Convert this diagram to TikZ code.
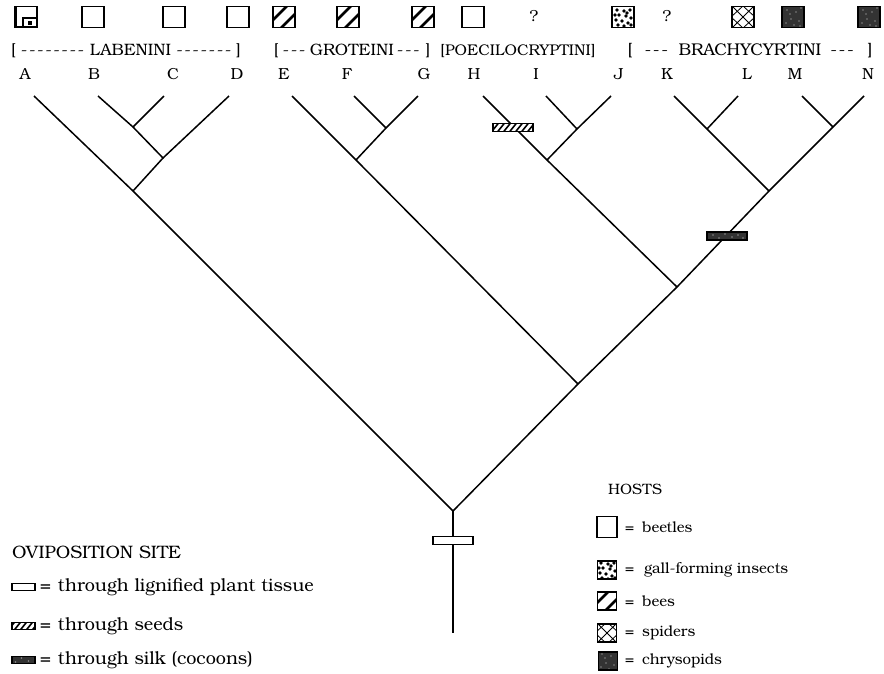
\documentclass[tikz,border=0pt]{standalone}
\usepackage{fontspec}
\setmainfont{TeX Gyre Bonum}
\usetikzlibrary{calc}
\newcommand\dsh{-\kern1.5pt}
\tikzset{
  br/.style={line width=1.5pt},
  tiplab/.style={font=\fontsize{16}{18}\selectfont, inner sep=0pt},
  grp/.style={font=\fontsize{16.5}{18}\selectfont, inner sep=0pt},
  leg/.style={font=\fontsize{18}{21}\selectfont, inner sep=0pt, anchor=west},
  legr/.style={font=\fontsize{15}{17}\selectfont, inner sep=0pt, anchor=west},
  hbox/.style={draw, line width=1.1pt, minimum width=22pt, minimum height=21pt, inner sep=0pt, fill=white},
  lbox/.style={hbox, minimum width=19pt, minimum height=18pt},
  bee/.style={path picture={\begin{scope}[shift={(path picture bounding box.center)}]
      \draw[black, line width=2.8pt] (-16,8) -- (8,-16) (-8,16) -- (16,-8);
    \end{scope}}},
  gall/.style={path picture={\begin{scope}[shift={(path picture bounding box.center)}]
      \foreach \a/\b in {-6/-7,1/-6,7/-7,-4/-2,3/-1,8/1,-7/3,-1/4,5/6,-5/8,1/9,8/8,-8/-2,4/-4}
        \fill[black] (\a,\b) circle (1.8pt);
    \end{scope}}},
  spider/.style={path picture={\begin{scope}[shift={(path picture bounding box.center)}]
      \draw[black, line width=0.8pt] (-13,-13) -- (13,13) (-13,13) -- (13,-13)
        (0,-11) -- (12,0) -- (0,11) -- (-12,0) -- cycle;
    \end{scope}}},
  chryso/.style={fill=black!80, path picture={\begin{scope}[shift={(path picture bounding box.center)}]
      \foreach \a/\b in {-6/-7,3/-5,-2/2,6/4,-7/6,1/8,8/-9,-3/-3,7/9}
        \fill[black!50] (\a,\b) circle (0.9pt);
    \end{scope}}},
  beetleA/.style={path picture={\begin{scope}[shift={(path picture bounding box.center)}]
      \draw[black, line width=4pt] (-11,-11) -- (-11,11) -- (11,11);
      \draw[black, line width=1.8pt] (-3,1) rectangle (11,11);
      \fill[black] (1.5,4) rectangle (5.5,8);
    \end{scope}}},
  ovbar/.style={draw, line width=1.1pt, fill=white, minimum width=40pt, minimum height=8pt, inner sep=0pt},
  seedbar/.style={ovbar, path picture={\begin{scope}[shift={(path picture bounding box.center)}]
      \foreach \o in {-24,-18,...,24} \draw[black, line width=1.6pt] (\o-4,5) -- (\o+4,-5);
    \end{scope}}},
  silkbar/.style={ovbar, fill=black!80, path picture={\begin{scope}[shift={(path picture bounding box.center)}]
      \foreach \a/\b in {-14/-1,-8/2,-2/-2,5/1,11/-1,16/2}
        \fill[black!45] (\a,\b) circle (0.8pt);
    \end{scope}}},
}
\begin{document}
\begin{tikzpicture}[x=1pt,y=-1pt]
\useasboundingbox (0,0) rectangle (884,673);
\fill[white] (0,0) rectangle (884,673);

% host boxes (top row)
\node[hbox, beetleA] (hA) at (26,17) {};
\node[hbox] (hB) at (93,17) {};
\node[hbox] (hC) at (174,17) {};
\node[hbox] (hD) at (238,17) {};
\node[hbox, bee] (hE) at (284,17) {};
\node[hbox, bee] (hF) at (348,17) {};
\node[hbox, bee] (hG) at (423,17) {};
\node[hbox] (hH) at (473,17) {};
\node[tiplab] (hI) at (534,16) {?};
\node[hbox, gall] (hJ) at (623,17) {};
\node[tiplab] (hK) at (667,16) {?};
\node[hbox, spider] (hL) at (743,17) {};
\node[hbox, chryso] (hM) at (793,17) {};
\node[hbox, chryso] (hN) at (869,17) {};

% tribe labels
\node[grp] (g1) at (126,51) {[\hskip 5pt\dsh\dsh\dsh\dsh\dsh\dsh\dsh\dsh\hskip 4pt LABENINI\hskip 5pt\dsh\dsh\dsh\dsh\dsh\dsh\dsh\hskip 3pt]};
\node[grp] (g2) at (352,51) {[\hskip 4pt\dsh\dsh\dsh\hskip 3pt GROTEINI\hskip 3pt\dsh\dsh\dsh\hskip 4pt]};
\node[grp, font=\fontsize{15.5}{18}\selectfont] (g3) at (518,51) {[POECILOCRYPTINI]};
\node[grp, font=\fontsize{17}{18}\selectfont] (g4) at (750,51) {[\hskip 12pt\dsh\dsh\dsh\hskip 9pt BRACHYCYRTINI\hskip 9pt\dsh\dsh\dsh\hskip 12pt]};

% terminal letters
\node[tiplab] (lA) at (25,74) {A};
\node[tiplab] (lB) at (94,74) {B};
\node[tiplab] (lC) at (173,74) {C};
\node[tiplab] (lD) at (237,74) {D};
\node[tiplab] (lE) at (284,74) {E};
\node[tiplab] (lF) at (347,74) {F};
\node[tiplab] (lG) at (424,74) {G};
\node[tiplab] (lH) at (474,74) {H};
\node[tiplab] (lI) at (536,74) {I};
\node[tiplab] (lJ) at (619,74) {J};
\node[tiplab] (lK) at (667,74) {K};
\node[tiplab] (lL) at (747,74) {L};
\node[tiplab] (lM) at (795,74) {M};
\node[tiplab] (lN) at (868,74) {N};

% tree coordinates
\coordinate (tA) at (34,96);
\coordinate (tB) at (98,96);
\coordinate (tC) at (164,96);
\coordinate (tD) at (229,96);
\coordinate (tE) at (292,96);
\coordinate (tF) at (354,96);
\coordinate (tG) at (418,96);
\coordinate (tH) at (483,96);
\coordinate (tI) at (546,96);
\coordinate (tJ) at (611,96);
\coordinate (tK) at (674,96);
\coordinate (tL) at (738,96);
\coordinate (tM) at (802,96);
\coordinate (tN) at (864,96);
\coordinate (nBC) at (133,127);
\coordinate (nBCD) at (163,158);
\coordinate (nABCD) at (133,191);
\coordinate (nFG) at (386,128);
\coordinate (nEFG) at (356,160);
\coordinate (nIJ) at (577,129);
\coordinate (nHIJ) at (547,160);
\coordinate (nKL) at (707,129);
\coordinate (nMN) at (833,127);
\coordinate (nKLMN) at (769,191);
\coordinate (nR2) at (677,287);
\coordinate (nR1) at (578,384);
\coordinate (nR) at (453,511);
\coordinate (bot) at (453,633);

\draw[br] (tA) -- (nABCD) -- (nR);
\draw[br] (tB) -- (nBC) -- (nBCD) -- (nABCD);
\draw[br] (tC) -- (nBC);
\draw[br] (tD) -- (nBCD);
\draw[br] (tE) -- (nEFG) -- (nR1);
\draw[br] (tF) -- (nFG);
\draw[br] (tG) -- (nFG) -- (nEFG);
\draw[br] (tH) -- (nHIJ) -- (nR2);
\draw[br] (tI) -- (nIJ);
\draw[br] (tJ) -- (nIJ) -- (nHIJ);
\draw[br] (tK) -- (nKL) -- (nKLMN);
\draw[br] (tL) -- (nKL);
\draw[br] (tM) -- (nMN);
\draw[br] (tN) -- (nMN) -- (nKLMN) -- (nR2) -- (nR1) -- (nR);
\draw[br] (nR) -- (bot);

% oviposition marks on tree
\node[seedbar] (sb) at (513,127.5) {};
\node[silkbar] (kb) at (727,236) {};
\node[ovbar] (ob) at (453,540.5) {};

% oviposition legend
\node[leg] (ovt) at (12,552) {OVIPOSITION SITE};
\node[ovbar, minimum width=23pt, minimum height=7pt] (ov1) at (23.5,587) {};
\node[leg] (ov1t) at (40,587) {=\hskip 7pt through lignified plant tissue};
\node[seedbar, minimum width=23pt, minimum height=7pt] (ov2) at (23.5,626) {};
\node[leg] (ov2t) at (40,626) {=\hskip 7pt through seeds};
\node[silkbar, minimum width=23pt, minimum height=7pt] (ov3) at (23.5,660) {};
\node[leg] (ov3t) at (40,660) {=\hskip 7pt through silk (cocoons)};

% hosts legend
\node[legr] (ht) at (608,489) {HOSTS};
\node[lbox, minimum width=20pt, minimum height=21pt] (h1) at (607,527) {};
\node[legr] (h1t) at (625,527) {=\hskip 8pt beetles};
\node[lbox, gall] (h2) at (607,570) {};
\node[legr] (h2t) at (625,570) {=\hskip 10pt gall-forming insects};
\node[lbox, bee] (h3) at (607,601) {};
\node[legr] (h3t) at (625,601) {=\hskip 8pt bees};
\node[lbox, spider] (h4) at (607,633) {};
\node[legr] (h4t) at (625,633) {=\hskip 8pt spiders};
\node[lbox, chryso] (h5) at (608,661) {};
\node[legr] (h5t) at (625,661) {=\hskip 8pt chrysopids};
\end{tikzpicture}
\end{document}
